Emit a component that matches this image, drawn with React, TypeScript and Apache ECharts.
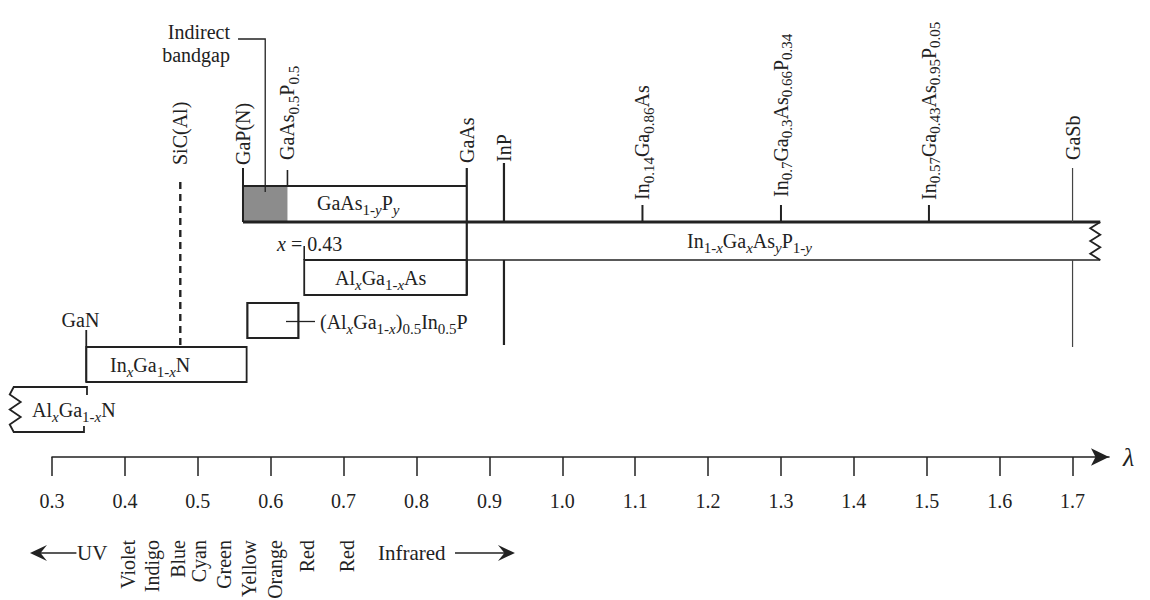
import React, { useEffect, useRef } from "react";
import * as echarts from "echarts";

// ---------------- data ----------------
const TICKS = [0.3, 0.4, 0.5, 0.6, 0.7, 0.8, 0.9, 1.0, 1.1, 1.2, 1.3, 1.4, 1.5, 1.6, 1.7];
const TICK_LABELS = ["0.3", "0.4", "0.5", "0.6", "0.7", "0.8", "0.9", "1.0", "1.1", "1.2", "1.3", "1.4", "1.5", "1.6", "1.7"];
const AXIS_MIN = 0.3;
const AXIS_MAX = 1.75;

// alloy systems: wavelength range (µm)
const ALLOY_NAMES = ["AlxGa1-xN", "InxGa1-xN", "(AlxGa1-x)0.5In0.5P", "AlxGa1-xAs", "In1-xGaxAsyP1-y", "GaAs1-yPy"];
const ALLOY_LABELS = [
  "Al{si|x}Ga{s|1-}{si|x}N",
  "In{si|x}Ga{s|1-}{si|x}N",
  "(Al{si|x}Ga{s|1-}{si|x}){s|0.5}In{s|0.5}P",
  "Al{si|x}Ga{s|1-}{si|x}As",
  "In{s|1-}{si|x}Ga{si|x}As{si|y}P{s|1-}{si|y}",
  "GaAs{s|1-}{si|y}P{si|y}",
];
const ALLOY_FROM = [0.242, 0.347, 0.568, 0.646, 0.869, 0.562];
const ALLOY_TO = [0.348, 0.567, 0.638, 0.869, 1.738, 0.869];
const INDIRECT_GAP = [0.562, 0.623];
const INDIRECT_LABEL = "Indirect\nbandgap";
const AL_EDGE_LABEL = "{i|x} = 0.43";

// binary / specific compounds: emission wavelength (µm)
const COMPOUND_NAMES = ["GaN", "SiC(Al)", "GaP(N)", "GaAs0.5P0.5", "GaAs", "InP", "In0.14Ga0.86As", "In0.7Ga0.3As0.66P0.34", "In0.57Ga0.43As0.95P0.05", "GaSb"];
const COMPOUND_LABELS = [
  "GaN",
  "SiC(Al)",
  "GaP(N)",
  "GaAs{s|0.5}P{s|0.5}",
  "GaAs",
  "InP",
  "In{s|0.14}Ga{s|0.86}As",
  "In{s|0.7}Ga{s|0.3}As{s|0.66}P{s|0.34}",
  "In{s|0.57}Ga{s|0.43}As{s|0.95}P{s|0.05}",
  "GaSb",
];
const COMPOUND_WAVELENGTH = [0.347, 0.476, 0.562, 0.623, 0.869, 0.92, 1.11, 1.3, 1.503, 1.7];

// visible spectrum colour names
const SPECTRUM_NAMES = ["Violet", "Indigo", "Blue", "Cyan", "Green", "Yellow", "Orange", "Red", "Red"];
const SPECTRUM_WAVELENGTH = [0.404, 0.437, 0.473, 0.502, 0.536, 0.57, 0.606, 0.65, 0.705];
const UV_LABEL = "UV";
const IR_LABEL = "Infrared";

// ---------------- layout (vertical units = px above the axis line) ----------------
const ALLOY_BAND = [[25, 70], [75, 110], [119, 154], [162, 197], [197, 235], [235, 271]];
const ALLOY_LINE = [1.8, 1.8, 2.2, 1.8, 1.6, 2.0];
const ALLOY_LABEL_AT = [[0.2726, 47], [0.3796, 92], [0.6676, 135], [0.6882, 179], [1.1711, 216], [0.6635, 254]];
const MARK_SEGMENTS = [
  [[75, 127]],
  [[112, 275]],
  [[271, 289]],
  [[271, 287]],
  [[162, 289]],
  [[235, 294], [112, 197]],
  [[235, 252]],
  [[235, 252]],
  [[235, 252]],
  [[235, 289], [110, 197]],
];
const MARK_LABEL_V = [137, 292, 292, 297, 294, 295, 257, 260, 257, 297];
const MARK_WIDTH = [1.8, 2.4, 2, 1.6, 2.2, 2.2, 2, 2, 2, 1.2];
const SPECTRUM_TOP_V = -83;
const BOTTOM_ROW_V = -96;

const INK = "#222222";
const FONT = "'Liberation Serif','Times New Roman',serif";
const FS = 20;
const RICH: any = {
  s: { fontSize: 15, lineHeight: 15, verticalAlign: "bottom", fontFamily: FONT, fill: INK },
  si: { fontSize: 15, lineHeight: 15, verticalAlign: "bottom", fontFamily: FONT, fontStyle: "italic", fill: INK },
  i: { fontSize: FS, fontFamily: FONT, fontStyle: "italic", fill: INK },
};

function tstyle(text: string, align: string, extra: any = {}) {
  return {
    text,
    fill: INK,
    fontFamily: FONT,
    fontSize: FS,
    lineHeight: 28,
    align,
    verticalAlign: "middle",
    rich: RICH,
    ...extra,
  };
}

function line(a: number[], b: number[], lw: number, extra: any = {}) {
  return {
    type: "line",
    shape: { x1: a[0], y1: a[1], x2: b[0], y2: b[1] },
    style: { stroke: INK, lineWidth: lw, ...extra },
  };
}

function arrowHead(tip: number[], dir: number) {
  const L = 17;
  const H = 8;
  return {
    type: "polygon",
    shape: {
      points: [
        [tip[0], tip[1]],
        [tip[0] - dir * L, tip[1] - H],
        [tip[0] - dir * L * 0.62, tip[1]],
        [tip[0] - dir * L, tip[1] + H],
      ],
    },
    style: { fill: INK },
  };
}

function renderAlloy(_params: any, api: any) {
  const i = api.value(2);
  const [vb, vt] = ALLOY_BAND[i];
  const tl = api.coord([api.value(0), vt]);
  const br = api.coord([api.value(1), vb]);
  const xl = tl[0], yt = tl[1], xr = br[0], yb = br[1];
  const lw = ALLOY_LINE[i];
  const ch: any[] = [];
  if (i === 0) {
    const pts: number[][] = [[xr, yt + 8], [xr, yt], [xl + 4, yt]];
    const n = 6;
    for (let k = 1; k < n; k++) {
      pts.push([k % 2 === 1 ? xl : xl + 11, yt + (k * (yb - yt)) / n]);
    }
    pts.push([xl + 4, yb], [xr - 3, yb], [xr - 3, yb - 6]);
    ch.push({ type: "polyline", shape: { points: pts }, style: { fill: "none", stroke: INK, lineWidth: lw } });
  } else if (i === 4) {
    ch.push(line([xl, yt], [xr, yt], 2.8));
    ch.push(line([xl, yb], [xr, yb], lw));
    const pts: number[][] = [];
    const n = 6;
    for (let k = 0; k <= n; k++) {
      pts.push([k % 2 === 1 ? xr - 10 : xr, yt + (k * (yb - yt)) / n]);
    }
    ch.push({ type: "polyline", shape: { points: pts }, style: { fill: "none", stroke: INK, lineWidth: 1.8 } });
  } else if (i === 5) {
    const xg = api.coord([INDIRECT_GAP[1], vt])[0];
    const xg0 = api.coord([INDIRECT_GAP[0], vt])[0];
    ch.push({ type: "rect", shape: { x: xg0, y: yt, width: xg - xg0, height: yb - yt }, style: { fill: "#8c8c8c" } });
    ch.push({ type: "polyline", shape: { points: [[xr, yt], [xl, yt], [xl, yb]] }, style: { fill: "none", stroke: INK, lineWidth: lw } });
    ch.push(line([xl, yb], [xr, yb], 2.8));
  } else {
    ch.push({ type: "rect", shape: { x: xl, y: yt, width: xr - xl, height: yb - yt }, style: { fill: "none", stroke: INK, lineWidth: lw } });
  }
  const lp = api.coord(ALLOY_LABEL_AT[i]);
  ch.push({ type: "text", x: lp[0], y: lp[1], style: tstyle(ALLOY_LABELS[i], "left") });
  return { type: "group", children: ch };
}

function renderMarker(_params: any, api: any) {
  const w = api.value(0);
  const i = api.value(1);
  const ch: any[] = [];
  for (const [v0, v1] of MARK_SEGMENTS[i]) {
    const a = api.coord([w, v0]);
    const b = api.coord([w, v1]);
    const extra: any = {};
    if (i === 1) extra.lineDash = [7, 5];
    if (i === 9) extra.stroke = "#444";
    ch.push(line(a, b, MARK_WIDTH[i], extra));
  }
  if (i === 0) {
    const lp = api.coord([w - 0.008, MARK_LABEL_V[i]]);
    ch.push({ type: "text", x: lp[0], y: lp[1], style: tstyle(COMPOUND_LABELS[i], "center") });
  } else {
    const lp = api.coord([w, MARK_LABEL_V[i]]);
    ch.push({ type: "text", x: lp[0], y: lp[1], rotation: Math.PI / 2, style: tstyle(COMPOUND_LABELS[i], "left") });
  }
  return { type: "group", children: ch };
}

function renderSpectrum(_params: any, api: any) {
  const w = api.value(0);
  const i = api.value(1);
  const p = api.coord([w, SPECTRUM_TOP_V]);
  return {
    type: "text",
    x: p[0],
    y: p[1],
    rotation: Math.PI / 2,
    style: { text: SPECTRUM_NAMES[i], fill: INK, fontFamily: FONT, fontSize: 20, align: "right", verticalAlign: "middle" },
  };
}

function renderAnnotations(_params: any, api: any) {
  const ch: any[] = [];
  const mid = (INDIRECT_GAP[0] + INDIRECT_GAP[1]) / 2;
  const a = api.coord([0.5552, 418]);
  const b = api.coord([mid, 418]);
  const c = api.coord([mid, 265]);
  ch.push({ type: "polyline", shape: { points: [a, b, c] }, style: { fill: "none", stroke: INK, lineWidth: 1.3 } });
  const ip = api.coord([0.5442, 413.5]);
  ch.push({ type: "text", x: ip[0], y: ip[1], style: { text: INDIRECT_LABEL, fill: INK, fontFamily: FONT, fontSize: FS, lineHeight: 23, align: "right", verticalAlign: "middle" } });
  const e0 = api.coord([ALLOY_FROM[3], 197]);
  const e1 = api.coord([ALLOY_FROM[3], 211]);
  ch.push(line(e0, e1, 1.6));
  const xp = api.coord([0.6087, 213]);
  ch.push({ type: "text", x: xp[0], y: xp[1], style: tstyle(AL_EDGE_LABEL, "left") });
  ch.push(line(api.coord([0.621, 135.5]), api.coord([0.6608, 135.5]), 1.3));
  const u0 = api.coord([0.2698, BOTTOM_ROW_V]);
  const u1 = api.coord([0.3335, BOTTOM_ROW_V]);
  ch.push(line([u0[0] + 8, u0[1]], u1, 1.6));
  ch.push(arrowHead(u0, -1));
  const up = api.coord([0.3343, BOTTOM_ROW_V]);
  ch.push({ type: "text", x: up[0], y: up[1], style: { text: UV_LABEL, fill: INK, fontFamily: FONT, fontSize: 21, align: "left", verticalAlign: "middle" } });
  const rp = api.coord([0.7472, BOTTOM_ROW_V]);
  ch.push({ type: "text", x: rp[0], y: rp[1], style: { text: IR_LABEL, fill: INK, fontFamily: FONT, fontSize: 21, align: "left", verticalAlign: "middle" } });
  const r0 = api.coord([0.8528, BOTTOM_ROW_V]);
  const r1 = api.coord([0.9351, BOTTOM_ROW_V]);
  ch.push(line(r0, [r1[0] - 8, r1[1]], 1.6));
  ch.push(arrowHead(r1, 1));
  return { type: "group", children: ch };
}

function buildOption(): any {
  return {
    animation: false,
    backgroundColor: "#ffffff",
    grid: { left: 52, right: 41, top: 0, bottom: 143, containLabel: false },
    xAxis: {
      type: "value",
      min: AXIS_MIN,
      max: AXIS_MAX,
      interval: 0.1,
      name: "λ",
      nameLocation: "end",
      nameGap: 14,
      nameTextStyle: { fontFamily: FONT, fontSize: 26, fontStyle: "italic", color: INK, verticalAlign: "middle" },
      axisLine: {
        show: true,
        onZero: false,
        symbol: ["none", "arrow"],
        symbolSize: [13, 18],
        lineStyle: { color: INK, width: 1.6 },
      },
      axisTick: { show: true, length: 19, customValues: TICKS, lineStyle: { color: INK, width: 1.5 } },
      axisLabel: {
        show: true,
        customValues: TICKS,
        margin: 34,
        fontFamily: FONT,
        fontSize: 20,
        color: INK,
        formatter: (v: number) => {
          const k = TICKS.findIndex((t) => Math.abs(t - v) < 1e-6);
          return k >= 0 ? TICK_LABELS[k] : "";
        },
      },
      splitLine: { show: false },
    },
    yAxis: { type: "value", min: 0, max: 457, show: false },
    series: [
      {
        type: "custom",
        name: "alloys",
        clip: false,
        renderItem: renderAlloy,
        data: ALLOY_NAMES.map((_, i) => [ALLOY_FROM[i], ALLOY_TO[i], i]),
      },
      {
        type: "custom",
        name: "compounds",
        clip: false,
        renderItem: renderMarker,
        data: COMPOUND_NAMES.map((_, i) => [COMPOUND_WAVELENGTH[i], i]),
      },
      {
        type: "custom",
        name: "spectrum",
        clip: false,
        renderItem: renderSpectrum,
        data: SPECTRUM_NAMES.map((_, i) => [SPECTRUM_WAVELENGTH[i], i]),
      },
      {
        type: "custom",
        name: "annotations",
        clip: false,
        renderItem: renderAnnotations,
        data: [[0.6, 0]],
      },
    ],
  };
}

export default function App() {
  const ref = useRef<HTMLDivElement>(null);
  useEffect(() => {
    document.body.style.margin = "0";
    const chart = echarts.init(ref.current as HTMLDivElement, null, { renderer: "svg" });
    chart.setOption(buildOption());
    return () => chart.dispose();
  }, []);
  return <div ref={ref} style={{ width: 1150, height: 600, background: "#fff" }} />;
}
